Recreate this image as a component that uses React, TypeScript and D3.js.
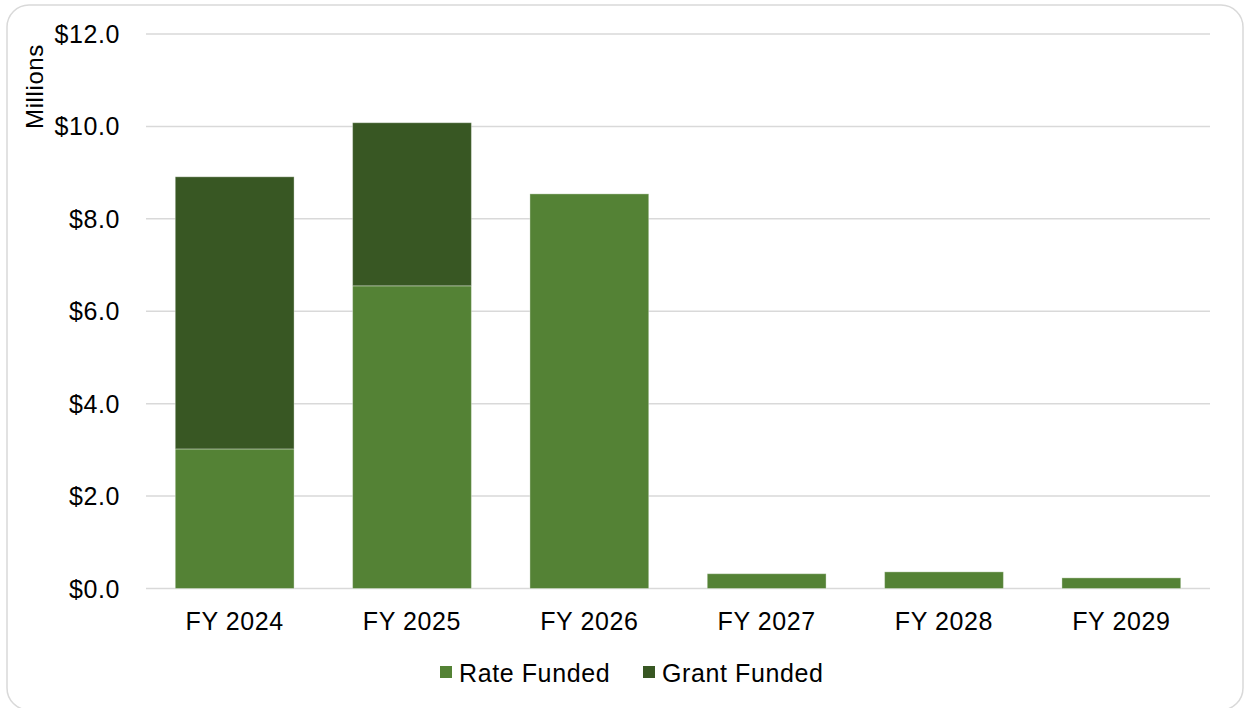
import React from "react";
import * as d3 from "d3";

const categories = ["FY 2024", "FY 2025", "FY 2026", "FY 2027", "FY 2028", "FY 2029"];
const rateFunded = [3.02, 6.55, 8.54, 0.32, 0.36, 0.23];
const grantFunded = [5.89, 3.53, 0, 0, 0, 0];
const seriesNames = ["Rate Funded", "Grant Funded"];
const seriesColors = ["#548235", "#385723"];
const yTicks = [0, 2, 4, 6, 8, 10, 12];

const W = 1245;
const H = 708;
const FONT = "'Liberation Sans', Arial, sans-serif";
const LS = 0.6;

export default function App() {
  const x = d3.scaleBand<string>().domain(categories).range([146, 1210]).paddingInner(0.33).paddingOuter(0.165);
  const y = d3.scaleLinear().domain([0, 12]).range([588.5, 34]);
  const fmt = (v: number) => "$" + d3.format(".1f")(v);

  const rows = categories.map((c, i) => ({ cat: c, rate: rateFunded[i], grant: grantFunded[i] }));
  const stack = d3.stack<any>().keys(["rate", "grant"])(rows);

  return (
    <svg width={W} height={H} style={{ position: "fixed", left: 0, top: 0, background: "#fff" }} fontFamily={FONT}>
      <rect x={7} y={5} width={1236} height={705} rx={22} ry={22} fill="#fff" stroke="#d9d9d9" strokeWidth={1.5} />
      {yTicks.map((t) => (
        <g key={t}>
          <line x1={146} x2={1210} y1={y(t)} y2={y(t)} stroke="#d9d9d9" strokeWidth={1.5} />
          <text x={120} y={y(t)} textAnchor="end" dominantBaseline="central" fontSize={25} letterSpacing={LS} fill="#000">
            {fmt(t)}
          </text>
        </g>
      ))}
      <text
        transform={`translate(34,86.5) rotate(-90)`}
        textAnchor="middle"
        dominantBaseline="central"
        fontSize={24}
        letterSpacing={LS}
        fill="#000"
      >
        Millions
      </text>
      {stack.map((s, si) => (
        <g key={si} fill={seriesColors[si]}>
          {s.map((d, i) =>
            d[1] - d[0] > 0 ? (
              <rect
                key={i}
                x={x(categories[i])}
                width={x.bandwidth()}
                y={y(d[1])}
                height={y(d[0]) - y(d[1])}
                stroke="#ffffff"
                strokeOpacity={0.35}
                strokeWidth={1}
              />
            ) : null
          )}
        </g>
      ))}
      {categories.map((c) => (
        <text
          key={c}
          x={(x(c) as number) + x.bandwidth() / 2}
          y={621}
          textAnchor="middle"
          dominantBaseline="central"
          fontSize={25}
          letterSpacing={LS}
          fill="#000"
        >
          {c}
        </text>
      ))}
      {seriesNames.map((n, i) => {
        const lx = [440, 643][i];
        return (
          <g key={n}>
            <rect x={lx} y={666} width={12} height={12} fill={seriesColors[i]} />
            <text x={lx + 19} y={673} dominantBaseline="central" fontSize={25} letterSpacing={LS} fill="#000">
              {n}
            </text>
          </g>
        );
      })}
    </svg>
  );
}
